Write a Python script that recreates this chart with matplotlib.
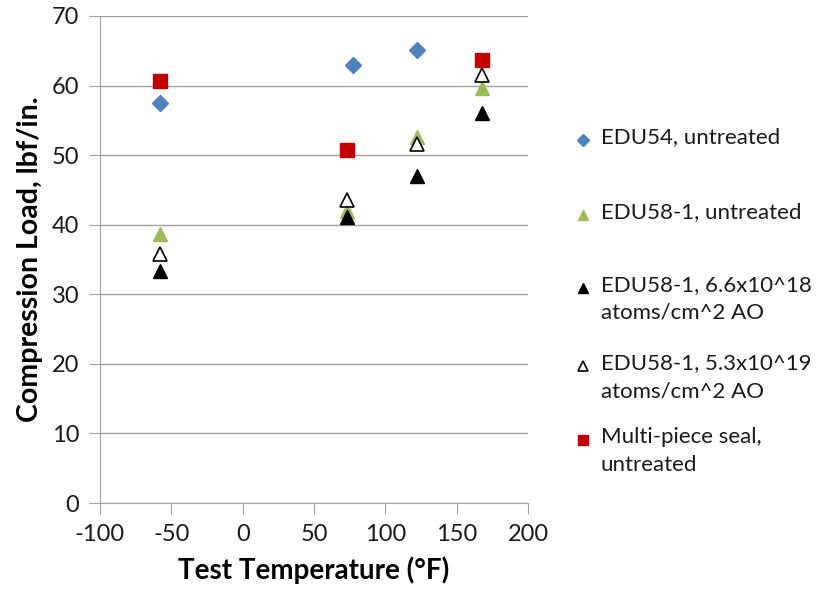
import matplotlib.pyplot as plt
from matplotlib.lines import Line2D

plt.rcParams['font.family'] = ['Lato', 'DejaVu Sans']
plt.rcParams['axes.unicode_minus'] = False

# data
temp_edu54 = [-58, 77, 122]
load_edu54 = [57.5, 62.9, 65.1]

temp_edu58 = [-58, 73, 122, 168]
load_edu58_untreated = [38.7, 42.0, 52.6, 59.6]
load_edu58_ao18 = [33.4, 41.1, 47.0, 56.0]
load_edu58_ao19 = [35.8, 43.5, 51.6, 61.5]

temp_multi = [-58, 73, 168]
load_multi = [60.7, 50.7, 63.7]

labels = ["EDU54, untreated",
          "EDU58-1, untreated",
          "EDU58-1, 6.6x10^18\natoms/cm^2 AO",
          "EDU58-1, 5.3x10^19\natoms/cm^2 AO",
          "Multi-piece seal,\nuntreated"]

series = [
    (temp_edu54, load_edu54, dict(marker='D', color='#4F81BD', ms=8, mec='#4F81BD')),
    (temp_edu58, load_edu58_untreated, dict(marker='^', color='#9BBB59', ms=10, mec='#9BBB59')),
    (temp_edu58, load_edu58_ao18, dict(marker='^', color='black', ms=10, mec='black')),
    (temp_edu58, load_edu58_ao19, dict(marker='^', color='white', ms=10, mec='black', mew=1.2)),
    (temp_multi, load_multi, dict(marker='s', color='#C00000', ms=10, mec='#C00000')),
]

fig = plt.figure(figsize=(8.24, 6), dpi=100)
ax = fig.add_axes([100/824, 1-503/600, 428/824, 487/600])

for x, y, st in series:
    ax.plot(x, y, ls='none', zorder=3, **st)

ax.set_xlim(-100, 200)
ax.set_ylim(0, 70)
ax.set_xticks(range(-100, 201, 50))
ax.set_yticks(range(0, 71, 10))
ax.yaxis.grid(True, color='#a0a0a0', lw=1)
ax.set_axisbelow(True)
for s in ['top', 'right']:
    ax.spines[s].set_visible(False)
for s in ['left', 'bottom']:
    ax.spines[s].set_color('#a0a0a0')
ax.tick_params(length=8, color='#a0a0a0', labelsize=17, pad=7, labelcolor='#1a1a1a')
ax.set_xlabel("Test Temperature (°F)", fontsize=20, fontweight='bold', labelpad=8)
ax.set_ylabel("Compression Load, lbf/in.", fontsize=20.5, fontweight='bold', labelpad=6)

# legend, laid out like the Excel one
leg_y = [140, 215, 288, 366, 440]
for (x, y, st), lab, py in zip(series, labels, leg_y):
    mst = dict(st)
    mst['ms'] = mst['ms'] * 0.75
    fig.add_artist(Line2D([583/824], [1-py/600], ls='none', transform=fig.transFigure, **mst))
    fig.text(601/824, 1-(py-13)/600, lab, fontsize=16, va='top', ha='left',
             linespacing=1.5, color='#1a1a1a')

fig.savefig("out.png", dpi=100)
